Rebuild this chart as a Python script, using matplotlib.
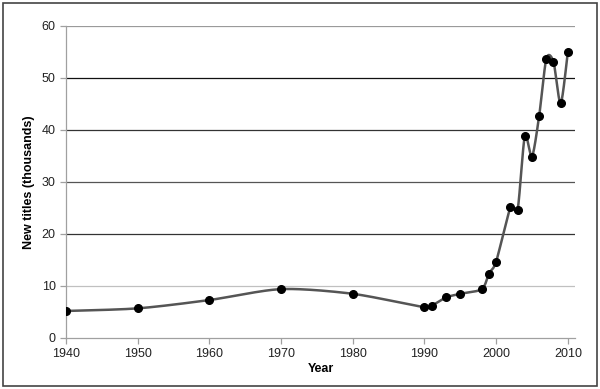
import numpy as np
import matplotlib
matplotlib.use("Agg")
import matplotlib.pyplot as plt
from matplotlib.patches import Rectangle

plt.rcParams['font.family'] = ['Liberation Sans', 'DejaVu Sans']

years = [1940, 1950, 1960, 1970, 1980, 1990, 1991, 1993, 1995, 1998, 1999, 2000,
         2002, 2003, 2004, 2005, 2006, 2007, 2008, 2009, 2010]
titles = [5.2, 5.7, 7.3, 9.4, 8.5, 5.9, 6.2, 7.8, 8.5, 9.4, 12.4, 14.7,
          25.1, 24.7, 38.8, 34.9, 42.7, 53.7, 53.1, 45.1, 55.0]
xticks = [1940, 1950, 1960, 1970, 1980, 1990, 2000, 2010]
yticks = [0, 10, 20, 30, 40, 50, 60]


def smooth(xs, ys, n=30, k=7.5):
    # Bezier smoothing through the points (like a spreadsheet "smoothed line")
    xs = np.asarray(xs, float)
    ys = np.asarray(ys, float)
    px = np.concatenate([[xs[0]], xs, [xs[-1]]])
    py = np.concatenate([[ys[0]], ys, [ys[-1]]])
    ox, oy = [], []
    t = np.linspace(0, 1, n)
    for i in range(1, len(px) - 2):
        p0 = np.array([px[i], py[i]])
        p3 = np.array([px[i + 1], py[i + 1]])
        p1 = p0 + (np.array([px[i + 1], py[i + 1]]) - np.array([px[i - 1], py[i - 1]])) / k
        p2 = p3 - (np.array([px[i + 2], py[i + 2]]) - np.array([px[i], py[i]])) / k
        b = ((1 - t) ** 3)[:, None] * p0 + (3 * (1 - t) ** 2 * t)[:, None] * p1 \
            + (3 * (1 - t) * t ** 2)[:, None] * p2 + (t ** 3)[:, None] * p3
        ox.extend(b[:, 0])
        oy.extend(b[:, 1])
    return ox, oy


fig = plt.figure(figsize=(6.0, 3.89), dpi=100)
ax = fig.add_axes([66 / 600, 1 - 338 / 389, (575 - 66) / 600, (338 - 26) / 389])

grid_colors = {10: '#c0c0c0', 20: '#333333', 30: '#555555', 40: '#333333', 50: '#111111', 60: '#9a9a9a'}
for v in yticks[1:]:
    ax.axhline(v, color=grid_colors[v], lw=0.9, zorder=1)

sx, sy = smooth(years, titles)
ax.plot(sx, sy, color='#555555', lw=1.8, zorder=2, solid_capstyle='round')
ax.plot(years, titles, 'o', color='black', ms=5.5, zorder=3)

ax.set_xlim(1940, 2011)
ax.set_ylim(0, 60)
ax.set_xticks(xticks)
ax.set_yticks(yticks)
for s in ['top', 'right']:
    ax.spines[s].set_visible(False)
for s in ['left', 'bottom']:
    ax.spines[s].set_color('#a0a0a0')
    ax.spines[s].set_linewidth(0.9)
ax.tick_params(axis='both', colors='#a0a0a0', labelcolor='#222222', labelsize=9, length=4, width=0.9)
ax.set_xlabel('Year', fontsize=9, fontweight='bold', labelpad=2)
ax.set_ylabel('New titles (thousands)', fontsize=9, fontweight='bold', labelpad=5)

fig.patches.append(Rectangle((3 / 600, 3 / 389), 594 / 600, 383 / 389, transform=fig.transFigure,
                             fill=False, edgecolor='#444444', lw=1.2))

fig.savefig('out.png', dpi=100)
